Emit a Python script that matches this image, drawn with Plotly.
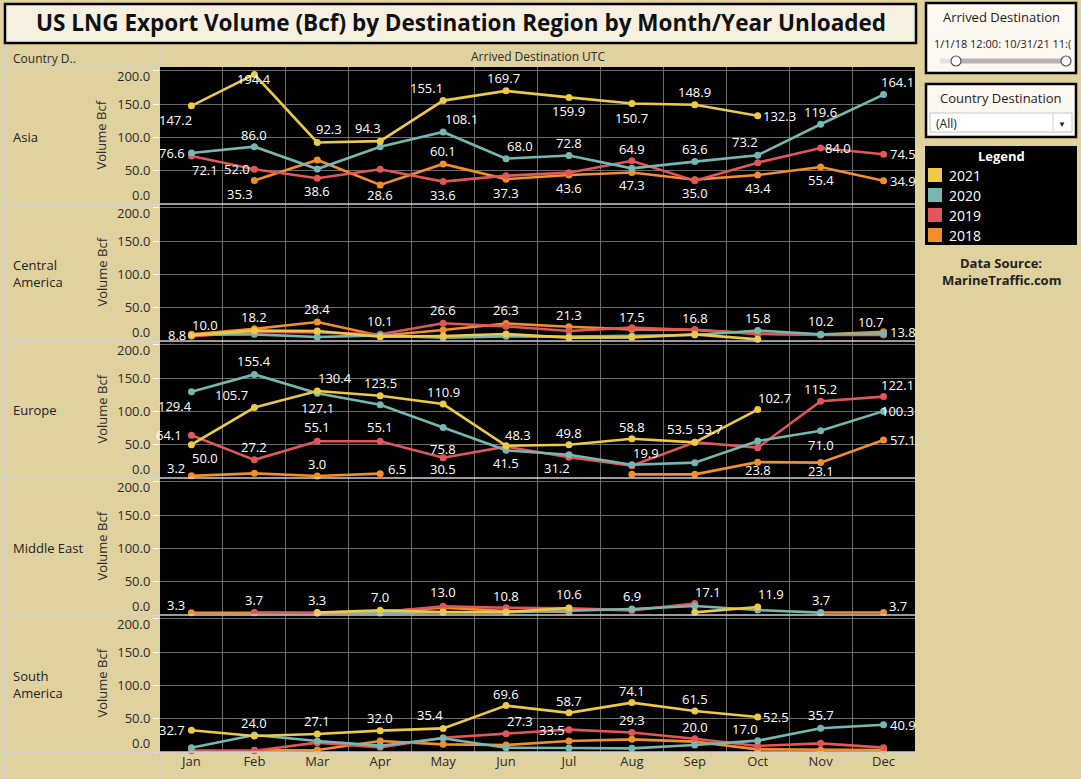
import plotly.graph_objects as go

# ---------------------------------------------------------------------------
# data (Bcf, read off the dashboard; None = no shipments recorded)
# ---------------------------------------------------------------------------
MONTHS = ["Jan", "Feb", "Mar", "Apr", "May", "Jun",
          "Jul", "Aug", "Sep", "Oct", "Nov", "Dec"]
YEARS = ["2021", "2020", "2019", "2018"]
REGIONS = ["Asia", "Central America", "Europe", "Middle East", "South America"]
REGION_TEXT = ["Asia", "Central<br>America", "Europe", "Middle East", "South<br>America"]

asia_2021 = [147.2, 194.4, 92.3, 94.3, 155.1, 169.7, 159.9, 150.7, 148.9, 132.3, None, None]
asia_2020 = [76.6, 86.0, 52.5, 86.0, 108.1, 68.0, 72.8, 53.5, 63.6, 73.2, 119.6, 164.1]
asia_2019 = [72.1, 52.0, 38.6, 52.0, 33.6, 42.5, 47.0, 64.9, 35.0, 62.0, 84.0, 74.5]
asia_2018 = [None, 35.3, 66.0, 28.6, 60.1, 37.3, 43.6, 47.3, 36.5, 43.4, 55.4, 34.9]

camerica_2021 = [8.8, 15.5, 15.0, 6.5, 7.5, 10.5, 5.0, 5.5, 10.0, 2.5, None, None]
camerica_2020 = [9.5, 10.0, 6.0, 8.5, 5.0, 7.0, 6.5, 7.5, 9.0, 15.8, 10.2, 10.7]
camerica_2019 = [7.0, 14.0, 13.0, 10.1, 26.6, 22.0, 15.0, 20.0, 16.5, 10.5, 9.0, 9.0]
camerica_2018 = [10.0, 18.2, 28.4, 8.0, 16.5, 26.3, 21.3, 17.5, 16.8, 11.0, 9.5, 13.8]

europe_2021 = [50.0, 105.7, 130.4, 123.5, 110.9, 48.3, 49.8, 58.8, 53.5, 102.7, None, None]
europe_2020 = [129.4, 155.4, 127.1, 110.0, 75.8, 41.5, 35.0, 19.9, 23.0, 55.5, 71.0, 100.3]
europe_2019 = [64.1, 27.2, 55.1, 55.1, 30.5, 47.0, 31.2, 18.5, 53.7, 45.5, 115.2, 122.1]
europe_2018 = [3.2, 7.0, 3.0, 6.5, None, None, None, 5.5, 5.5, 23.8, 23.1, 57.1]

mideast_2021 = [None, None, 3.5, 7.0, 4.5, 4.5, 10.6, None, 4.0, 11.9, None, None]
mideast_2020 = [None, None, 3.3, 3.0, 4.0, 4.0, 6.5, 9.0, 13.5, 7.5, 3.5, None]
mideast_2019 = [None, 3.7, 3.2, 4.0, 13.0, 10.8, 10.0, 6.9, 17.1, None, None, None]
mideast_2018 = [3.3, 3.5, 3.0, 5.0, 11.0, 6.0, 4.5, None, None, None, 3.7, 3.7]

samerica_2021 = [32.7, 24.0, 27.1, 32.0, 35.4, 69.6, 58.7, 74.1, 61.5, 52.5, None, None]
samerica_2020 = [6.5, 25.5, 16.5, 9.5, 20.5, 6.5, 6.0, 5.5, 10.5, 17.0, 35.7, 40.9]
samerica_2019 = [2.0, 2.0, 14.0, 7.0, 21.5, 27.3, 33.5, 29.3, 20.0, 9.0, 13.0, 6.5]
samerica_2018 = [None, 2.5, 3.0, 16.5, 11.5, 10.5, 16.5, 19.0, 15.5, 4.0, 3.0, 3.0]

SERIES = {
    "Asia": {"2021": asia_2021, "2020": asia_2020, "2019": asia_2019, "2018": asia_2018},
    "Central America": {"2021": camerica_2021, "2020": camerica_2020,
                        "2019": camerica_2019, "2018": camerica_2018},
    "Europe": {"2021": europe_2021, "2020": europe_2020, "2019": europe_2019, "2018": europe_2018},
    "Middle East": {"2021": mideast_2021, "2020": mideast_2020,
                    "2019": mideast_2019, "2018": mideast_2018},
    "South America": {"2021": samerica_2021, "2020": samerica_2020,
                      "2019": samerica_2019, "2018": samerica_2018},
}

# ---------------------------------------------------------------------------
# style
# ---------------------------------------------------------------------------
COLORS = {"2021": "#EDC948", "2020": "#76B7B2", "2019": "#E15759", "2018": "#F28E2B"}
TAN = "#E0D29F"
GRID = "#6b6b6b"
DIVIDER = "#cfcfcf"
TEXT = "#2b2b2b"
FONT = "Open Sans"

# which marks carry a value label, and where (px offset: dx right, dy down)
LABELS = [
    ("Asia", "2021", 0, -16, 14), ("Asia", "2021", 1, 0, 5), ("Asia", "2021", 2, 12, -13),
    ("Asia", "2021", 3, -12, -13), ("Asia", "2021", 4, -17, -13), ("Asia", "2021", 5, -3, -13),
    ("Asia", "2021", 6, 0, 14), ("Asia", "2021", 7, 0, 14), ("Asia", "2021", 8, 0, -13),
    ("Asia", "2021", 9, 22, 0),
    ("Asia", "2020", 0, -19, 0), ("Asia", "2020", 1, 0, -12), ("Asia", "2020", 4, 18, -13),
    ("Asia", "2020", 5, 14, -13), ("Asia", "2020", 6, 0, -12), ("Asia", "2020", 8, 0, -13),
    ("Asia", "2020", 9, -13, -13), ("Asia", "2020", 10, 0, -12), ("Asia", "2020", 11, 14, -13),
    ("Asia", "2019", 0, 14, 14), ("Asia", "2019", 1, -17, 0), ("Asia", "2019", 2, 0, 13),
    ("Asia", "2019", 4, 0, 13), ("Asia", "2019", 7, 0, -12), ("Asia", "2019", 8, 0, 12),
    ("Asia", "2019", 10, 17, 0), ("Asia", "2019", 11, 19, 0),
    ("Asia", "2018", 1, -14, 14), ("Asia", "2018", 3, 0, 10), ("Asia", "2018", 4, 0, -13),
    ("Asia", "2018", 5, 0, 14), ("Asia", "2018", 6, 0, 13), ("Asia", "2018", 7, 0, 13),
    ("Asia", "2018", 9, 0, 13), ("Asia", "2018", 10, 0, 13), ("Asia", "2018", 11, 19, 0),

    ("Central America", "2021", 0, -14, 0), ("Central America", "2018", 0, 14, -9),
    ("Central America", "2018", 1, 0, -12), ("Central America", "2018", 2, 0, -13),
    ("Central America", "2019", 3, 0, -13), ("Central America", "2019", 4, 0, -13),
    ("Central America", "2018", 5, 0, -13), ("Central America", "2018", 6, 0, -12),
    ("Central America", "2018", 7, 0, -12), ("Central America", "2018", 8, 0, -12),
    ("Central America", "2020", 9, 0, -12), ("Central America", "2020", 10, 0, -13),
    ("Central America", "2020", 11, -13, -12), ("Central America", "2018", 11, 19, 0),

    ("Europe", "2020", 0, -16, 14), ("Europe", "2020", 1, 0, -13), ("Europe", "2020", 2, 0, 15),
    ("Europe", "2020", 4, 0, 22), ("Europe", "2020", 5, 0, 13), ("Europe", "2020", 7, 14, -12),
    ("Europe", "2020", 10, 0, 14), ("Europe", "2020", 11, 14, 0),
    ("Europe", "2021", 0, 14, 13), ("Europe", "2021", 1, -23, -13), ("Europe", "2021", 2, 18, -13),
    ("Europe", "2021", 3, 0, -13), ("Europe", "2021", 4, 0, -12), ("Europe", "2021", 5, 12, -11),
    ("Europe", "2021", 6, 0, -12), ("Europe", "2021", 7, 0, -12), ("Europe", "2021", 8, -15, -13),
    ("Europe", "2021", 9, 17, -12),
    ("Europe", "2019", 0, -22, 0), ("Europe", "2019", 1, 0, -13), ("Europe", "2019", 2, 0, -14),
    ("Europe", "2019", 3, 0, -14), ("Europe", "2019", 4, 0, 11), ("Europe", "2019", 6, -12, 11),
    ("Europe", "2019", 8, 15, -13), ("Europe", "2019", 10, 0, -12), ("Europe", "2019", 11, 14, -12),
    ("Europe", "2018", 0, -15, -8), ("Europe", "2018", 2, 0, -12), ("Europe", "2018", 3, 17, -5),
    ("Europe", "2018", 9, 0, 8), ("Europe", "2018", 10, 0, 8), ("Europe", "2018", 11, 19, 0),

    ("Middle East", "2018", 0, -15, -8), ("Middle East", "2019", 1, 0, -13),
    ("Middle East", "2020", 2, 0, -13), ("Middle East", "2021", 3, 0, -13),
    ("Middle East", "2019", 4, 0, -14), ("Middle East", "2019", 5, 0, -12),
    ("Middle East", "2021", 6, 0, -14), ("Middle East", "2019", 7, 0, -14),
    ("Middle East", "2019", 8, 13, -12), ("Middle East", "2021", 9, 13, -13),
    ("Middle East", "2018", 10, 0, -13), ("Middle East", "2018", 11, 14, -7),

    ("South America", "2021", 0, -19, 0), ("South America", "2021", 1, 0, -13),
    ("South America", "2021", 2, 0, -13), ("South America", "2021", 3, 0, -13),
    ("South America", "2021", 4, -13, -13), ("South America", "2021", 5, 0, -12),
    ("South America", "2021", 6, 0, -12), ("South America", "2021", 7, 0, -12),
    ("South America", "2021", 8, 0, -12), ("South America", "2021", 9, 18, 0),
    ("South America", "2019", 5, 14, -13), ("South America", "2019", 6, -17, 0),
    ("South America", "2019", 7, 0, -12), ("South America", "2019", 8, 0, -12),
    ("South America", "2020", 9, -13, -12), ("South America", "2020", 10, 0, -13),
    ("South America", "2020", 11, 19, 0),
]

W, H = 1081, 779
PLOT_L, PLOT_R = 160, 915
PANE_TOP0, PANE_H = 67, 137
Y_MAX = 205.5


def px_x(px):
    return px / W


def px_y(px):
    return 1 - px / H


def label(x, y, text, size=13, color="#222222", anchor="center", bold=False):
    """Free text placed in page pixels."""
    if bold:
        text = f"<b>{text}</b>"
    return dict(x=px_x(x), y=px_y(y), xref="paper", yref="paper",
                xanchor=anchor, yanchor="middle", text=text, showarrow=False,
                align="left", font=dict(family=FONT, size=size, color=color))


def rect(x0, y0, x1, y1, fill, line_color=None, width=0):
    return dict(type="rect", xref="paper", yref="paper",
                x0=px_x(x0), x1=px_x(x1), y0=px_y(y1), y1=px_y(y0),
                fillcolor=fill,
                line=dict(color=line_color or fill, width=width))


def hline(x0, x1, y, color, width=1):
    return dict(type="line", xref="paper", yref="paper",
                x0=px_x(x0), x1=px_x(x1), y0=px_y(y), y1=px_y(y),
                line=dict(color=color, width=width))


def vline(x, y0, y1, color, width=1):
    return dict(type="line", xref="paper", yref="paper",
                x0=px_x(x), x1=px_x(x), y0=px_y(y0), y1=px_y(y1),
                line=dict(color=color, width=width))


fig = go.Figure()
shapes = []
annotations = []

x_idx = list(range(len(MONTHS)))

for i, region in enumerate(REGIONS):
    n = "" if i == 0 else str(i + 1)
    top = PANE_TOP0 + i * PANE_H
    bot = top + PANE_H
    last = i == len(REGIONS) - 1

    for year in ["2018", "2019", "2020", "2021"]:
        fig.add_trace(go.Scatter(
            x=x_idx, y=SERIES[region][year],
            mode="lines+markers",
            line=dict(color=COLORS[year], width=2.6),
            marker=dict(color=COLORS[year], size=7),
            connectgaps=False, cliponaxis=False,
            xaxis="x" + n, yaxis="y" + n,
            name=year, showlegend=False, hoverinfo="skip",
        ))

    fig.layout["xaxis" + n] = dict(
        domain=[px_x(PLOT_L), px_x(PLOT_R)], range=[-0.5, 11.5],
        anchor="y" + n, matches=None if i == 0 else "x",
        tickmode="array", tickvals=x_idx, ticktext=MONTHS,
        showticklabels=last, ticks="", showgrid=False, zeroline=False,
        showline=False, fixedrange=True,
        tickfont=dict(family=FONT, size=13, color=TEXT),
        minor=dict(tickmode="array", tickvals=[k + 0.5 for k in range(11)],
                   showgrid=True, gridcolor=GRID, gridwidth=1, ticks=""),
    )
    fig.layout["yaxis" + n] = dict(
        domain=[px_y(bot), px_y(top)], range=[0, Y_MAX],
        anchor="x" + n, tickmode="array",
        tickvals=[0, 50, 100, 150, 200],
        ticktext=["", "50.0", "100.0", "150.0", ""],
        ticks="outside", ticklen=6, tickcolor="white", tickwidth=1,
        showgrid=True, gridcolor=GRID, gridwidth=1,
        zeroline=False, showline=False, fixedrange=True,
        tickfont=dict(family=FONT, size=13, color=TEXT),
    )

    # end-of-axis tick labels, nudged inside the pane as Tableau does
    for val, shift in ((200, -5), (0, 9)):
        annotations.append(dict(
            x=px_x(152), xref="paper", y=val, yref="y" + n, yshift=shift,
            text=f"{val:.1f}", showarrow=False, xanchor="right", yanchor="middle",
            font=dict(family=FONT, size=13, color=TEXT)))

    # row header + axis title
    annotations.append(label(11, (top + bot) / 2 + 1, REGION_TEXT[i], anchor="left"))
    ann = label(101, (top + bot) / 2, "Volume Bcf", color=TEXT)
    ann["textangle"] = -90
    annotations.append(ann)

    # pane divider
    shapes.append(hline(5, PLOT_R, bot, DIVIDER, 1.5))

# value labels
for region, year, m, dx, dy in LABELS:
    i = REGIONS.index(region)
    n = "" if i == 0 else str(i + 1)
    v = SERIES[region][year][m]
    annotations.append(dict(
        x=x_idx[m], y=v, xref="x" + n, yref="y" + n,
        xshift=dx, yshift=-dy, text=f"{v:.1f}", showarrow=False,
        xanchor="center", yanchor="middle",
        font=dict(family=FONT, size=13, color="white")))

# ---------------------------------------------------------------------------
# header / title
# ---------------------------------------------------------------------------
shapes += [
    rect(5, 4, 916, 43, "#F6F0E1", "black", 2.5),
    hline(5, PLOT_L, PANE_TOP0, DIVIDER, 1.5),
    vline(PLOT_L, 46, PANE_TOP0, DIVIDER),
    vline(PLOT_L, 753, 779, DIVIDER),
    vline(4.5, 46, 779, DIVIDER),
]
annotations += [
    label(460.5, 23, "US LNG Export Volume (Bcf) by Destination Region by Month/Year Unloaded",
          size=22.5, color="#111111", bold=True),
    label(11, 58, "Country D..", size=12, color=TEXT, anchor="left"),
    label((PLOT_L + PLOT_R) / 2, 57, "Arrived Destination UTC", size=12, color=TEXT),
]

# ---------------------------------------------------------------------------
# right-hand panel: filters, legend, source
# ---------------------------------------------------------------------------
shapes += [
    rect(926, 3, 1076, 73, "#FDF9F1", "black", 2.5),
    hline(940, 956, 61, "#e2e2e2", 5),
    hline(956, 1066, 61, "#b3b3b3", 5),
    dict(type="circle", xref="paper", yref="paper",
         x0=px_x(951), x1=px_x(961), y0=px_y(66), y1=px_y(56),
         fillcolor="white", line=dict(color="#555555", width=1.2)),
    dict(type="circle", xref="paper", yref="paper",
         x0=px_x(1061), x1=px_x(1071), y0=px_y(66), y1=px_y(56),
         fillcolor="white", line=dict(color="#555555", width=1.2)),
    rect(926, 84, 1076, 137, "#FDF9F1", "black", 2.5),
    rect(930, 113, 1072, 132, "white", "#c8c8c8", 1),
    vline(1053, 114, 131, "#d0d0d0"),
    rect(925, 146, 1077, 245, "black"),
]
annotations += [
    label(1001, 17, "Arrived Destination"),
    label(932, 44, "1/1/18 12:00: 10/31/21 11:(", size=11, anchor="left"),
    label(1001, 98, "Country Destination"),
    label(934, 123, "(All)", size=12, anchor="left"),
    label(1062, 123, "▼", size=8),
    label(1001, 156, "Legend", color="white", bold=True),
    label(1001, 263, "Data Source:", bold=True),
    label(1001, 280, "MarineTraffic.com", bold=True),
]
for k, year in enumerate(YEARS):
    cy = 175 + 20 * k
    shapes.append(rect(928, cy - 7, 942, cy + 7, COLORS[year]))
    annotations.append(label(947, cy, year, size=14, color="white", anchor="left"))

fig.update_layout(
    width=W, height=H,
    margin=dict(l=0, r=0, t=0, b=0),
    paper_bgcolor=TAN, plot_bgcolor="black",
    showlegend=False,
    shapes=shapes, annotations=annotations,
    font=dict(family=FONT, color=TEXT),
)

fig.write_html("out.html", config={"displayModeBar": False},
               post_script="document.body.style.margin='0';")
